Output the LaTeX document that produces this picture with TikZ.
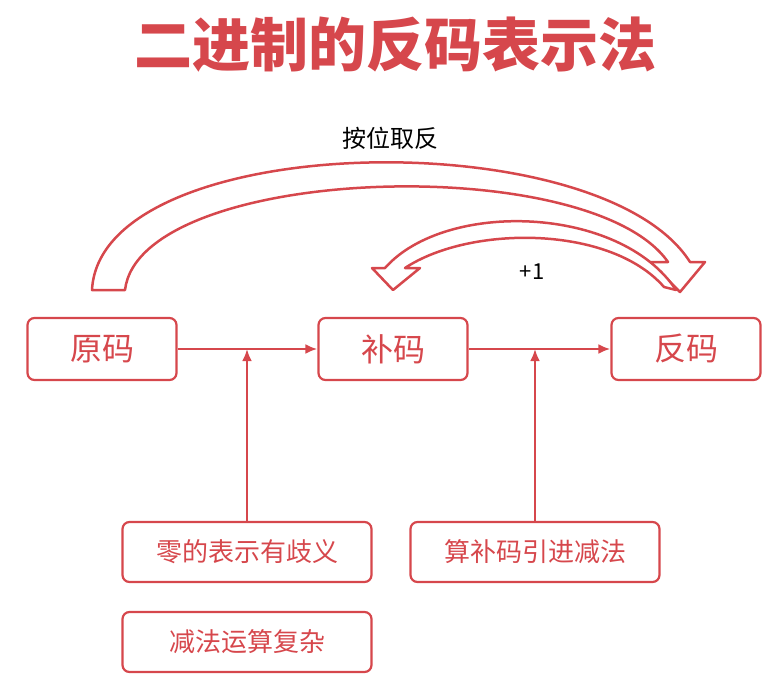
\documentclass[tikz,border=0pt]{standalone}
\usepackage{fontspec}
\setmainfont{Noto Sans CJK SC}
\usetikzlibrary{positioning}
\definecolor{codered}{HTML}{D6474C}
\tikzset{
  bigbox/.style={draw=codered,line width=2.2pt,rounded corners=7pt,minimum width=149pt,minimum height=62pt,font=\fontsize{32}{36}\selectfont,text=codered},
  notebox/.style={draw=codered,line width=2.2pt,rounded corners=7pt,minimum width=249pt,minimum height=60pt,font=\fontsize{26}{30}\selectfont,text=codered},
  link/.style={draw=codered,line width=2.8pt,-{latex[length=12pt,width=10pt]}},
}
\usetikzlibrary{arrows.meta}
\begin{document}
\begin{tikzpicture}[x=1pt,y=-1pt]
\useasboundingbox (0,0) rectangle (766,691);
% title
\node (title) at (395,45) {\fontsize{58}{62}\selectfont\bfseries\color{codered}二进制的反码表示法};
% boxes
\node[bigbox] (yuan) at (102,349) {原码};
\node[bigbox] (bu) at (393,349) {补码};
\node[bigbox] (fan) at (686,349) {反码};
\node[notebox] (zero) at (247,552) {零的表示有歧义};
\node[notebox] (sub) at (247,642) {减法运算复杂};
\node[notebox] (suan) at (535,552) {算补码引进减法};
% arrows
\draw[link,-{Latex[length=12pt,width=10pt]}] (yuan) -- (bu);
\draw[link,-{Latex[length=12pt,width=10pt]}] (bu) -- (fan);
\draw[link,-{Latex[length=12pt,width=10pt]}] (zero) -- (zero |- yuan.east);
\draw[link,-{Latex[length=12pt,width=10pt]}] (suan) -- (suan |- bu.east);
% block arcs
\draw[codered,line width=2.5pt,fill=white,line join=round]
  (92,290) .. controls (100,130) and (600,120) .. (690,262) -- (705,262) -- (680,292)
  -- (650,262) -- (668,262) .. controls (590,150) and (140,165) .. (125,290) -- cycle;
\draw[codered,line width=2.5pt,fill=white,line join=round]
  (385,268) -- (372,268) -- (393,290) -- (420,268) -- (405,268)
  .. controls (470,225) and (610,225) .. (664,287) -- (676,290)
  .. controls (620,205) and (445,200) .. (385,268) -- cycle;
\node (flip) at (390,138) {\fontsize{24}{28}\selectfont 按位取反};
\node (plus) at (532,272) {\fontsize{22}{26}\selectfont +1};
\end{tikzpicture}
\end{document}
